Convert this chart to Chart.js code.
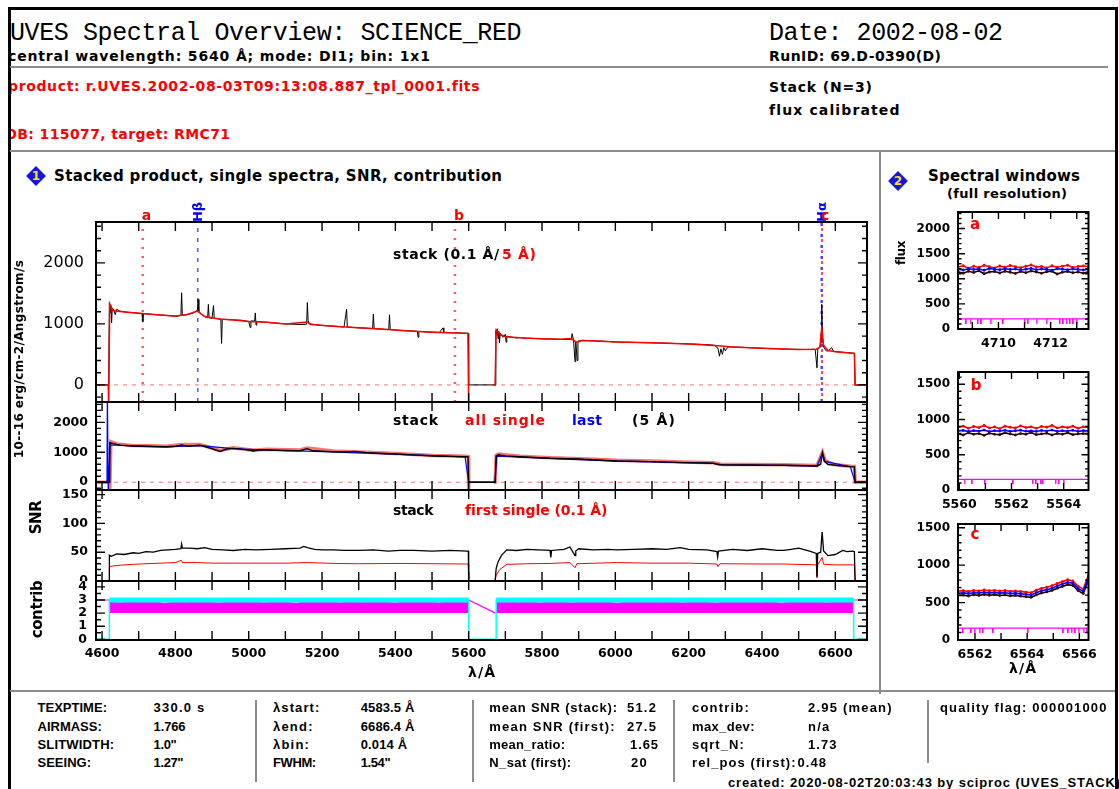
<!DOCTYPE html>
<html>
<head>
<meta charset="utf-8">
<title>UVES Spectral Overview: SCIENCE_RED</title>
<script src="https://cdn.jsdelivr.net/npm/chart.js@4.4.1/dist/chart.umd.min.js"></script>
<style>
  html, body { margin: 0; padding: 0; background: #fff; }
  #page { position: relative; width: 1119px; height: 789px; overflow: hidden; background: #fff; }
  #page canvas { position: absolute; }
  .t { position: absolute; white-space: pre; line-height: 1; font-family: "DejaVu Sans", sans-serif; font-weight: bold; color: #000; }
  .rule { position: absolute; background: #8c8c8c; }
  #headClip { position: absolute; left: 11px; top: 10px; width: 740px; height: 140px; overflow: hidden; }
</style>
</head>
<body>
<div id="page"><div id="headClip"></div></div>
<script>
const LAMBDA_START = 4583.5;
const LAMBDA_END = 6686.4;

// Stacked product, 0.1 A bins (black, panel 1)
const stackWave = [
  4583.5, 4618, 4620, 4622, 4624, 4626, 4628, 4632, 4636, 4640,
  4648, 4660, 4672, 4685, 4700, 4709, 4711, 4713, 4730, 4750,
  4770, 4790, 4805, 4815, 4817, 4819, 4830, 4845, 4855, 4860,
  4862, 4864, 4870, 4880, 4888, 4890, 4892, 4900, 4904, 4906,
  4915, 4924, 4926, 4928, 4945, 4960, 4980, 5000, 5004, 5006,
  5016, 5018, 5020, 5022, 5040, 5060, 5080, 5100, 5120, 5140,
  5158, 5160, 5162, 5165, 5180, 5200, 5220, 5240, 5260, 5267,
  5269, 5280, 5300, 5320, 5338, 5340, 5342, 5360, 5382, 5384,
  5386, 5400, 5420, 5440, 5460, 5462, 5464, 5480, 5500, 5520,
  5530, 5532, 5550, 5570, 5590, 5599, 5600, 5672, 5674, 5676,
  5678, 5680, 5682, 5684, 5686, 5690, 5694, 5700, 5702, 5704,
  5710, 5720, 5730, 5740, 5760, 5780, 5800, 5820, 5840, 5860,
  5880, 5882, 5886, 5890, 5892, 5896, 5898, 5910, 5930, 5950,
  5980, 6000, 6030, 6060, 6100, 6140, 6180, 6220, 6250, 6270,
  6280, 6284, 6288, 6292, 6296, 6300, 6306, 6312, 6330, 6360,
  6400, 6440, 6480, 6520, 6545, 6550, 6552, 6558, 6561, 6563,
  6565, 6568, 6575, 6580, 6590, 6595, 6620, 6640, 6652, 6654,
  6686.4
];
const stackFlux = [
  0, 0, 1350, 1180, 1300, 1020, 1260, 1230, 1150, 1240,
  1210, 1200, 1190, 1185, 1175, 1170, 1030, 1170, 1160, 1150,
  1140, 1130, 1125, 1140, 1510, 1140, 1150, 1170, 1200, 1230,
  1400, 1210, 1160, 1120, 1100, 1320, 1100, 1090, 1300, 1090,
  1085, 1080, 680, 1075, 1070, 1065, 1060, 1040, 940, 1050,
  1045, 1180, 980, 1040, 1030, 1020, 1010, 1000, 995, 990,
  995, 1350, 1060, 1000, 990, 975, 965, 960, 950, 1240,
  950, 945, 935, 930, 920, 1160, 920, 915, 905, 1150,
  905, 900, 890, 885, 880, 780, 878, 870, 865, 860,
  935, 858, 855, 852, 848, 845, 0, 0, 890, 820,
  920, 760, 880, 690, 850, 800, 780, 830, 700, 800,
  790, 780, 770, 775, 765, 760, 755, 752, 750, 745,
  745, 840, 735, 380, 720, 400, 720, 730, 725, 720,
  712, 705, 700, 695, 690, 684, 676, 668, 660, 650,
  600, 470, 590, 500, 610, 560, 615, 625, 620, 612,
  600, 592, 584, 580, 585, 280, 585, 615, 700, 1320,
  760, 620, 560, 555, 610, 550, 535, 525, 518, 0,
  0
];

// Stacked product smoothed to 5 A (red, panel 1)
const smoothWave = [
  4583.5, 4617, 4618, 4621, 4630, 4660, 4700, 4750, 4800, 4830,
  4860, 4880, 4920, 4960, 5000, 5050, 5100, 5160, 5170, 5250,
  5300, 5350, 5400, 5450, 5500, 5550, 5598, 5600, 5601, 5668,
  5672, 5675, 5685, 5700, 5750, 5800, 5850, 5880, 5893, 5910,
  5950, 6000, 6100, 6200, 6280, 6320, 6400, 6500, 6548, 6558,
  6563, 6568, 6580, 6600, 6640, 6652, 6654, 6686.4
];
const smoothFlux = [
  0, 0, -400, 1330, 1220, 1195, 1175, 1150, 1130, 1150,
  1210, 1120, 1080, 1065, 1040, 1025, 1000, 1030, 990, 955,
  935, 920, 900, 880, 865, 855, 845, -400, null, 0,
  0, 900, 830, 790, 770, 757, 748, 760, 700, 728,
  720, 705, 690, 672, 640, 622, 600, 580, 585, 620,
  950, 650, 565, 545, 522, 515, 0, 0
];

// Spectral windows and lines marked on the flux panel
const markerWave = [4710.95, 4861.3, 5562.45, 6562.8, 6563.85];
const markerName = ['a', 'Hβ', 'b', 'Hα', 'c'];

// Panel 2: stack, all single, last (5 A)
const p2Wave = [
  4583.5, 4619, 4621, 4631, 4650, 4685, 4730, 4776, 4800, 4817,
  4835, 4867, 4890, 4922, 4940, 4958, 4990, 5013, 5030, 5049,
  5100, 5140, 5159, 5175, 5200, 5231, 5270, 5290, 5322, 5370,
  5413, 5460, 5504, 5550, 5590, 5598, 5600, 5672, 5675, 5681,
  5700, 5740, 5780, 5822, 5870, 5900, 5913, 5950, 6004, 6050,
  6095, 6140, 6186, 6230, 6268, 6280, 6300, 6368, 6420, 6459,
  6500, 6550, 6560, 6565, 6570, 6580, 6595, 6620, 6641, 6652,
  6654, 6686.4
];
const p2Stack = [
  0, 0, 1320, 1290, 1240, 1210, 1195, 1187, 1200, 1243,
  1200, 1235, 1160, 1030, 1110, 1130, 1090, 1045, 1080, 1077,
  1060, 1053, 1120, 1050, 1035, 1020, 1010, 1030, 987, 960,
  933, 905, 877, 865, 853, 850, 0, 0, 880, 915,
  880, 850, 825, 800, 785, 780, 765, 740, 710, 700,
  687, 670, 655, 645, 633, 590, 578, 577, 572, 567,
  558, 543, 600, 985, 700, 590, 577, 540, 520, 515,
  0, 0
];
const p2SingleWave = [
  4583.5, 4620, 4621, 4624, 4640, 4680, 4730, 4776, 4817, 4867,
  4922, 4958, 5013, 5049, 5140, 5159, 5231, 5322, 5413, 5504,
  5590, 5599, 5600, 5601, 5668, 5672, 5675, 5681, 5740, 5822,
  5913, 6004, 6095, 6186, 6268, 6290, 6368, 6459, 6550, 6565,
  6572, 6595, 6641, 6652, 6654, 6686.4
];
const p2Single = [
  0, 0, -300, 1360, 1280, 1230, 1215, 1205, 1260, 1260,
  1060, 1150, 1070, 1100, 1075, 1140, 1040, 1005, 950, 895,
  870, 860, -300, null, 0, 0, 900, 940, 870, 820,
  785, 730, 705, 672, 650, 595, 592, 582, 560, 1000,
  720, 592, 535, 530, 0, 0
];
const p2LastWave = [
  4583.5, 4613.5, 4614.5, 4617, 4622, 4650, 4776, 4867, 4958, 5049,
  5231, 5413, 5590, 5600, 5672, 5676, 5822, 6004, 6186, 6268,
  6290, 6459, 6550, 6565, 6572, 6641, 6654, 6686.4
];
const p2Last = [
  0, 0, 3000, -300, 1250, 1230, 1180, 1225, 1120, 1070,
  1015, 930, 850, 0, 0, 870, 795, 705, 652, 630,
  580, 565, 540, 980, 695, 518, 0, 0
];

// Panel 3: SNR of stack (black) and first single (red)
const snrWave = [
  4583.5, 4619, 4620, 4625, 4640, 4660, 4685, 4700, 4720, 4740,
  4760, 4780, 4800, 4815, 4817, 4819, 4840, 4860, 4880, 4900,
  4930, 4958, 4990, 5020, 5060, 5100, 5140, 5150, 5160, 5180,
  5200, 5231, 5260, 5300, 5340, 5380, 5413, 5450, 5500, 5550,
  5595, 5599, 5600, 5672, 5675, 5680, 5690, 5704, 5730, 5760,
  5790, 5822, 5824, 5826, 5860, 5876, 5890, 5892, 5900, 5940,
  5980, 6004, 6050, 6100, 6140, 6177, 6200, 6250, 6277, 6279,
  6281, 6320, 6360, 6400, 6440, 6459, 6480, 6500, 6530, 6548,
  6550, 6552, 6560, 6564, 6568, 6580, 6600, 6620, 6632, 6648,
  6652, 6654, 6686.4
];
const snrStack = [
  0, 0, 45, 43, 47, 46, 49, 48, 51, 50,
  53, 54, 55, 56, 64, 57, 57, 56, 58, 55,
  54, 53, 55, 54, 55, 56, 57, 60, 58, 55,
  54, 54, 53, 53, 54, 52, 53, 53, 52, 53,
  52, 52, 0, 0, 22, 33, 45, 54, 53, 55,
  54, 53, 41, 53, 55, 59, 44, 52, 56, 54,
  55, 54, 55, 56, 55, 58, 55, 54, 51, 42,
  52, 55, 53, 56, 53, 53, 55, 57, 52, 48,
  8, 48, 50, 85, 52, 44, 46, 53, 51, 52,
  51, 0, 0
];
const snrFirstWave = [
  4583.5, 4619, 4620, 4640, 4685, 4720, 4760, 4800, 4817, 4819,
  4860, 4900, 4958, 5000, 5060, 5100, 5160, 5231, 5300, 5413,
  5500, 5595, 5599, 5600, 5672, 5675, 5685, 5704, 5760, 5822,
  5876, 5890, 5895, 6004, 6100, 6200, 6277, 6280, 6285, 6400,
  6459, 6548, 6550, 6552, 6564, 6568, 6600, 6648, 6652, 6654,
  6686.4
];
const snrFirst = [
  0, 0, 25, 27, 29, 30, 31, 32, 36, 32,
  32, 31, 31, 31, 31, 31, 32, 30.5, 30, 30.5,
  30, 29.5, 29.5, 0, 0, 10, 20, 29, 30, 30.5,
  32, 23, 30, 32, 31, 31, 29.5, 25, 30, 29.5,
  29.5, 28, 6, 28, 41, 29, 28, 28, 28, 0,
  0
];

// Panel 4: contributing spectra (cyan) and relative position (magenta)
const contribWave = [4583.5, 4620, 4620, 5600, 5600, 5675, 5675, 6650, 6650, 6686.4];
const contribVal = [0, 0, 3, 3, 0, 0, 3, 3, 0, 0];
const contribTopWave = [4620, 5600, 5640, 5675, 6650];
const contribTop = [3, 3, null, 3, 3];
const relWave = [
  4620, 4650, 4680, 4710, 4740, 4770, 4800, 4830, 4860, 4890,
  4920, 4950, 4980, 5010, 5040, 5070, 5100, 5130, 5160, 5190,
  5220, 5250, 5280, 5310, 5340, 5370, 5400, 5430, 5460, 5490,
  5520, 5550, 5580, 5600, 5640,
  5675, 5705, 5735, 5765, 5795, 5825, 5855, 5885, 5915, 5945,
  5975, 6005, 6035, 6065, 6095, 6125, 6155, 6185, 6215, 6245,
  6275, 6305, 6335, 6365, 6395, 6425, 6455, 6485, 6515, 6545,
  6575, 6605, 6635, 6650
];
const relVal = [
  2.82, 2.78, 2.86, 2.80, 2.84, 2.75, 2.83, 2.79, 2.85, 2.81,
  2.77, 2.84, 2.80, 2.86, 2.78, 2.83, 2.81, 2.76, 2.85, 2.80,
  2.82, 2.78, 2.84, 2.79, 2.83, 2.81, 2.77, 2.85, 2.80, 2.82,
  2.78, 2.84, 2.81, 2.80, null,
  2.80, 2.84, 2.79, 2.83, 2.77, 2.85, 2.81, 2.78, 2.84, 2.80,
  2.82, 2.76, 2.83, 2.80, 2.85, 2.79, 2.82, 2.78, 2.84, 2.81,
  2.77, 2.83, 2.80, 2.85, 2.79, 2.82, 2.76, 2.84, 2.80, 2.83,
  2.78, 2.82, 2.80, 2.81
];
const relEdgeWave = [4583.5, 4619.5, 4625, 5600, 5673, 5680, 6650, 6686.4];
const relEdge = [3, 3, null, 3, 2, null, 3, 3];

// Spectral windows at full resolution
const winAWave = [
  4708.45, 4708.65, 4708.85, 4709.05, 4709.25, 4709.45, 4709.65, 4709.85, 4710.05, 4710.25,
  4710.45, 4710.65, 4710.85, 4711.05, 4711.25, 4711.45, 4711.65, 4711.85, 4712.05, 4712.25,
  4712.45, 4712.65, 4712.85, 4713.05, 4713.25, 4713.45
];
const winARed = [1235, 1260, 1210, 1250, 1225, 1270, 1240, 1215, 1255, 1230, 1265, 1240, 1220, 1250, 1275, 1235, 1245, 1215, 1260, 1230, 1250, 1270, 1225, 1245, 1255, 1240];
const winABlue = [1190, 1175, 1200, 1185, 1195, 1170, 1205, 1190, 1180, 1200, 1185, 1195, 1175, 1190, 1205, 1180, 1195, 1185, 1170, 1200, 1190, 1180, 1195, 1185, 1175, 1190];
const winABlack = [1140, 1110, 1150, 1125, 1160, 1100, 1135, 1145, 1115, 1150, 1130, 1105, 1145, 1120, 1155, 1135, 1110, 1140, 1150, 1095, 1130, 1145, 1120, 1135, 1110, 1140];
const winAFlag = [4708.77, 4708.93, 4709.22, 4709.35, 4709.7, 4710.18, 4711.01, 4711.14, 4711.46, 4711.85, 4712.36, 4712.49, 4712.62, 4712.75, 4712.87, 4713.0];

const winBWave = [
  5559.95, 5560.15, 5560.35, 5560.55, 5560.75, 5560.95, 5561.15, 5561.35, 5561.55, 5561.75,
  5561.95, 5562.15, 5562.35, 5562.55, 5562.75, 5562.95, 5563.15, 5563.35, 5563.55, 5563.75,
  5563.95, 5564.15, 5564.35, 5564.55, 5564.75, 5564.95
];
const winBRed = [890, 905, 875, 900, 885, 915, 880, 895, 870, 905, 890, 880, 910, 885, 895, 875, 900, 890, 915, 880, 895, 885, 905, 875, 895, 890];
const winBBlue = [838, 845, 830, 842, 835, 850, 828, 840, 836, 846, 832, 840, 848, 834, 838, 830, 844, 836, 850, 832, 840, 836, 846, 830, 842, 838];
const winBBlack = [795, 780, 810, 790, 800, 775, 805, 790, 785, 810, 795, 780, 800, 790, 815, 785, 795, 805, 780, 800, 790, 810, 785, 795, 800, 790];
const winBFlag = [5560.2, 5560.5, 5561.0, 5562.07, 5562.82, 5562.95, 5563.14, 5563.2, 5563.7, 5563.82, 5564.0];

const winCWave = [
  6561.35, 6561.55, 6561.75, 6561.95, 6562.15, 6562.35, 6562.55, 6562.75, 6562.95, 6563.15,
  6563.35, 6563.55, 6563.75, 6563.95, 6564.15, 6564.35, 6564.55, 6564.75, 6564.95, 6565.15,
  6565.35, 6565.55, 6565.75, 6565.95, 6566.15, 6566.35
];
const winCRed = [655, 660, 648, 662, 655, 668, 658, 664, 655, 662, 650, 655, 648, 640, 632, 665, 690, 705, 725, 755, 780, 805, 790, 720, 680, 870];
const winCBlue = [625, 630, 620, 632, 628, 636, 630, 634, 626, 632, 622, 626, 618, 610, 602, 632, 658, 672, 692, 722, 748, 770, 760, 690, 650, 835];
const winCBlack = [595, 600, 588, 604, 596, 608, 598, 606, 594, 602, 590, 596, 586, 578, 570, 602, 628, 642, 662, 690, 716, 740, 728, 660, 620, 800];
const winCFlag = [6561.54, 6561.86, 6561.99, 6562.18, 6562.31, 6562.7, 6564.04, 6565.39, 6565.58, 6565.71, 6565.84, 6565.97, 6566.16, 6566.28];
const winFlagLevel = [200, 150, 160];

// Tick labels
const waveTicks = [4600, 4800, 5000, 5200, 5400, 5600, 5800, 6000, 6200, 6400, 6600];
const fluxTicks = [0, 1000, 2000];
const snrTicks = [0, 50, 100, 150];
const contribTicks = [0, 1, 2, 3, 4];
const winFluxTicks = [[0, 500, 1000, 1500, 2000], [0, 500, 1000, 1500], [0, 500, 1000, 1500]];
const winWaveTicks = [[4710, 4712], [5560, 5562, 5564], [6562, 6564, 6566]];

// ---------- Helpers ----------
const RED = '#ff0000', BLUE = '#0000ff', MAGENTA = '#ff00ff', CYAN = '#00ffff';
const page = document.getElementById('page');
const headClip = document.getElementById('headClip');
Chart.defaults.font.family = '"DejaVu Sans", sans-serif';
Chart.defaults.color = '#000';

function makeCanvas(left, top, w, h) {
    const c = document.createElement('canvas');
    c.width = w; c.height = h;
    c.style.left = left + 'px'; c.style.top = top + 'px';
    c.style.width = w + 'px'; c.style.height = h + 'px';
    page.appendChild(c);
    return c;
}

function line(xs, ys, color, width, extra) {
    return Object.assign({
        data: xs.map((x, i) => ({ x: x, y: ys[i] })),
        borderColor: color, backgroundColor: color, borderWidth: width,
        pointRadius: 0, fill: false, tension: 0
    }, extra || {});
}

function yAxis(range, values, width, font, pad) {
    return {
        type: 'linear', min: range[0], max: range[1],
        grid: { display: false, drawTicks: false }, border: { display: false },
        ticks: { font: font, color: '#000', padding: pad, autoSkip: false, callback: v => String(v) },
        afterBuildTicks: s => { s.ticks = values.map(v => ({ value: v })); },
        afterFit: s => { s.width = width; s.paddingTop = 0; s.paddingBottom = 0; }
    };
}

function xAxis(range, values, height, font, pad) {
    return {
        type: 'linear', min: range[0], max: range[1], display: !!values,
        grid: { display: false, drawTicks: false }, border: { display: false },
        ticks: { font: font, color: '#000', padding: pad, autoSkip: false, maxRotation: 0, callback: v => String(v) },
        afterBuildTicks: s => { if (values) s.ticks = values.map(v => ({ value: v })); },
        afterFit: s => { s.height = height; s.paddingLeft = 0; s.paddingRight = 0; }
    };
}

function chartOptions(x, y, pad, frame) {
    return {
        responsive: false, animation: false, devicePixelRatio: 1, events: [],
        layout: { autoPadding: false, padding: pad },
        plugins: { legend: { display: false }, tooltip: { enabled: false }, frameTicks: frame },
        scales: { x: x, y: y }
    };
}

// PGPLOT style box: frame plus inward ticks on all four sides
const frameTicks = {
    id: 'frameTicks',
    afterDatasetsDraw(chart, args, o) {
        const { ctx, chartArea: a } = chart;
        const xs = chart.scales.x, ys = chart.scales.y;
        const each = (scale, step, fn) => {
            if (!step) return;
            for (let i = Math.ceil(scale.min / step - 1e-9); i * step <= scale.max + 1e-9; i++) fn(scale.getPixelForValue(i * step));
        };
        const xTick = len => px => { ctx.moveTo(px, a.top); ctx.lineTo(px, a.top + len); ctx.moveTo(px, a.bottom); ctx.lineTo(px, a.bottom - len); };
        const yTick = len => py => { ctx.moveTo(a.left, py); ctx.lineTo(a.left + len, py); ctx.moveTo(a.right, py); ctx.lineTo(a.right - len, py); };
        ctx.save();
        ctx.strokeStyle = '#000';
        ctx.lineWidth = 1.4;
        ctx.beginPath();
        each(xs, o.xMajor, xTick(o.majorLen));
        each(xs, o.xMinor, xTick(o.minorLen));
        each(ys, o.yMajor, yTick(o.majorLen));
        each(ys, o.yMinor, yTick(o.minorLen));
        ctx.stroke();
        ctx.lineWidth = 2;
        ctx.strokeRect(a.left, a.top, a.right - a.left, a.bottom - a.top);
        ctx.restore();
    }
};
Chart.register(frameTicks);

// Labels over the marker lines of the flux panel
const markerColor = [RED, BLUE, RED, BLUE, RED];
const markerLabels = {
    id: 'markerLabels',
    afterDraw(chart) {
        const { ctx, chartArea: a } = chart;
        markerWave.forEach((w, i) => {
            const px = chart.scales.x.getPixelForValue(w);
            ctx.save();
            ctx.fillStyle = markerColor[i];
            ctx.textBaseline = 'middle';
            if (markerName[i].length > 1) {
                ctx.font = 'bold 13px "DejaVu Sans"';
                ctx.textAlign = 'center';
                ctx.translate(px + 1, a.top - 10);
                ctx.rotate(-Math.PI / 2);
                ctx.fillText(markerName[i], 0, 0);
            } else {
                ctx.font = 'bold 14px "DejaVu Sans"';
                ctx.textAlign = 'left';
                ctx.fillText(markerName[i], px - 1, a.top - 6);
            }
            ctx.restore();
        });
    }
};

function addText(str, x, y, w, o) {
    o = o || {};
    const size = o.size || 12.5;
    const el = document.createElement('span');
    el.className = 't';
    el.textContent = str;
    el.style.fontSize = size + 'px';
    if (o.weight) el.style.fontWeight = o.weight;
    if (o.color) el.style.color = o.color;
    if (o.family) el.style.fontFamily = o.family;
    (o.clip ? headClip : page).appendChild(el);
    if (w) {
        const natural = el.getBoundingClientRect().width;
        const spacing = Math.min(Math.max((w - natural) / Math.max(str.length - 1, 1), -0.4), 1.2);
        el.style.letterSpacing = spacing + 'px';
    }
    const r = el.getBoundingClientRect();
    let left = (o.center || o.rotate) ? x - r.width / 2 : x;
    let top = y - r.height / 2;
    if (o.clip) { left -= 11; top -= 10; }
    el.style.left = left + 'px';
    el.style.top = top + 'px';
    if (o.rotate) el.style.transform = 'rotate(-90deg)';
}

function rule(x, y, w, h, color) {
    const d = document.createElement('div');
    d.className = 'rule';
    d.style.left = x + 'px'; d.style.top = y + 'px';
    d.style.width = w + 'px'; d.style.height = h + 'px';
    if (color) d.style.background = color;
    page.appendChild(d);
}

function diamond(cx, cy, label) {
    const d = document.createElement('div');
    d.style.cssText = 'position:absolute;left:' + (cx - 7) + 'px;top:' + (cy - 7) + 'px;width:14px;height:14px;background:#1414e6;transform:rotate(45deg);';
    page.appendChild(d);
    addText(label, cx, cy, 0, { size: 12, color: '#ffe600', center: true });
}

// ---------- Page frame ----------
rule(8, 7, 3, 782, '#000');
rule(8, 7, 1110, 3, '#000');
rule(1115, 7, 3, 782, '#000');
rule(10, 66, 1098, 2);
rule(10, 150, 1105, 2);
rule(879, 151, 2, 543);
rule(10, 690, 1105, 2);
rule(255, 700, 2, 82);
rule(472, 700, 2, 82);
rule(673, 700, 2, 82);
rule(927, 700, 2, 63);

// ---------- Header ----------
const MONO = '"Liberation Mono", monospace';
addText('UVES Spectral Overview: SCIENCE_RED', 10, 33, 511, { size: 25, weight: 'normal', family: MONO, clip: true });
addText('central wavelength: 5640 Å; mode: DI1; bin: 1x1', 8, 56, 422, { size: 14, clip: true });
addText('product: r.UVES.2002-08-03T09:13:08.887_tpl_0001.fits', 8, 86, 471, { size: 14, color: RED, clip: true });
addText('OB: 115077, target: RMC71', 5, 134, 225, { size: 14, color: RED, clip: true });
addText('Date: 2002-08-02', 769, 33, 232, { size: 25, weight: 'normal', family: MONO });
addText('RunID: 69.D-0390(D)', 769, 56, 172, { size: 14 });
addText('Stack (N=3)', 769, 87, 103, { size: 14 });
addText('flux calibrated', 769, 110, 130, { size: 14 });

diamond(36, 176, '1');
addText('Stacked product, single spectra, SNR, contribution', 54, 176, 448, { size: 15 });
diamond(898, 181, '2');
addText('Spectral windows', 928, 176, 152, { size: 15 });
addText('(full resolution)', 947, 193, 120, { size: 13 });

// ---------- Left block: stacked product, singles, SNR, contribution ----------
const X_RANGE = [LAMBDA_START, LAMBDA_END];
const fluxRange = [-280, 2670];
const p2Range = [-260, 2680];
const snrRange = [0, 158];
const contribRange = [-0.05, 4.45];
const bold = size => ({ family: '"DejaVu Sans"', size: size, weight: 'bold' });
const pad = top => ({ left: 0, right: 13, top: top, bottom: 0 });

new Chart(makeCanvas(0, 195, 880, 207), {
    type: 'line',
    data: { datasets: [
        line(smoothWave, smoothFlux, RED, 1.5),
        line(stackWave, stackFlux, '#000', 1),
        line([markerWave[0], markerWave[0]], fluxRange, '#ff5a5a', 2.5, { borderDash: [2, 7] }),
        line([markerWave[1], markerWave[1]], fluxRange, BLUE, 1, { borderDash: [4, 6] }),
        line([markerWave[2], markerWave[2]], fluxRange, '#ff5a5a', 2.5, { borderDash: [2, 7] }),
        line([markerWave[3], markerWave[3]], fluxRange, '#5a3cff', 2.5, { borderDash: [3, 8] }),
        line([markerWave[4], markerWave[4]], fluxRange, '#ff3c78', 2, { borderDash: [3, 8], borderDashOffset: 5 }),
        line(X_RANGE, [0, 0], '#ff7070', 1, { borderDash: [4, 5] })
    ] },
    options: chartOptions(xAxis(X_RANGE, null, 0), yAxis(fluxRange, fluxTicks, 96, { family: '"DejaVu Sans"', size: 16 }, 12),
        pad(27), { xMajor: 100, yMajor: 1000, yMinor: 200, majorLen: 9, minorLen: 5 }),
    plugins: [markerLabels]
});

new Chart(makeCanvas(0, 392, 880, 98), {
    type: 'line',
    data: { datasets: [
        line(p2Wave, p2Stack, '#000', 1.4),
        line(p2LastWave, p2Last, BLUE, 1.2),
        line(p2SingleWave, p2Single, 'rgba(255,0,0,0.55)', 3.5),
        line(X_RANGE, [0, 0], '#ff7070', 1, { borderDash: [4, 5] })
    ] },
    options: chartOptions(xAxis(X_RANGE, null, 0), yAxis(p2Range, fluxTicks, 96, bold(12.5), 8),
        pad(10), { xMajor: 100, yMajor: 1000, yMinor: 200, majorLen: 9, minorLen: 5 })
});

new Chart(makeCanvas(0, 480, 880, 101), {
    type: 'line',
    data: { datasets: [
        line(snrWave, snrStack, '#000', 1.3),
        line(snrFirstWave, snrFirst, RED, 1)
    ] },
    options: chartOptions(xAxis(X_RANGE, null, 0), yAxis(snrRange, snrTicks, 96, bold(12.5), 8),
        pad(10), { xMajor: 100, yMajor: 50, yMinor: 10, majorLen: 9, minorLen: 5 })
});

new Chart(makeCanvas(0, 571, 880, 119), {
    type: 'line',
    data: { datasets: [
        line(contribTopWave, contribTop, CYAN, 5),
        line(contribWave, contribVal, CYAN, 1.5),
        line(relEdgeWave, relEdge, MAGENTA, 1.2),
        line(relWave, relVal, MAGENTA, 1, { fill: { value: 2 }, backgroundColor: MAGENTA })
    ] },
    options: chartOptions(xAxis(X_RANGE, waveTicks, 50, bold(12.5), 6), yAxis(contribRange, contribTicks, 96, bold(12.5), 9),
        pad(10), { xMajor: 100, yMajor: 1, yMinor: 0.5, majorLen: 9, minorLen: 5 })
});

addText('stack (0.1 Å/', 393, 254, 106, { size: 14 });
addText('5 Å)', 502, 254, 34, { size: 14, color: RED });
addText('stack', 393, 420, 45, { size: 14 });
addText('all single', 465, 420, 80, { size: 14, color: RED });
addText('last', 572, 420, 30, { size: 14, color: BLUE });
addText('(5 Å)', 632, 420, 43, { size: 14 });
addText('stack', 393, 510, 39, { size: 14 });
addText('first single (0.1 Å)', 465, 510, 142, { size: 14, color: RED });
addText('λ/Å', 468, 672, 29, { size: 14 });
addText('10--16 erg/cm-2/Angstrom/s', 19, 359, 198, { size: 12, rotate: true });
addText('SNR', 37, 517, 30, { size: 15, rotate: true });
addText('contrib', 38, 609, 58, { size: 15, rotate: true });

// ---------- Right block: spectral windows ----------
const flagMark = document.createElement('canvas');
flagMark.width = 2; flagMark.height = 10;
flagMark.getContext('2d').fillStyle = MAGENTA;
flagMark.getContext('2d').fillRect(0, 5, 1.5, 5);

const windows = [
    { top: 196, h: 158, range: [4708.45, 4713.45], yRange: [0, 2330], wave: winAWave, red: winARed, blue: winABlue, black: winABlack, flag: winAFlag },
    { top: 356, h: 159, range: [5559.95, 5564.95], yRange: [0, 1673], wave: winBWave, red: winBRed, blue: winBBlue, black: winBBlack, flag: winBFlag },
    { top: 508, h: 157, range: [6561.35, 6566.35], yRange: [0, 1550], wave: winCWave, red: winCRed, blue: winCBlue, black: winCBlack, flag: winCFlag }
];

windows.forEach((w, i) => {
    const dots = c => ({ pointRadius: 1.4, pointBorderWidth: 0, pointBackgroundColor: c });
    new Chart(makeCanvas(880, w.top, 230, w.h), {
        type: 'line',
        data: { datasets: [
            line(w.wave, w.blue, BLUE, 1.6, dots(BLUE)),
            line(w.wave, w.red, RED, 1.6, dots(RED)),
            line(w.wave, w.black, '#000', 1.6, dots('#4a0000')),
            line(w.flag, w.flag.map(() => winFlagLevel[i]), MAGENTA, 0, { showLine: false, pointStyle: flagMark, pointRadius: 5 }),
            line(w.range, [winFlagLevel[i], winFlagLevel[i]], MAGENTA, 1.2)
        ] },
        options: chartOptions(xAxis(w.range, winWaveTicks[i], 25, bold(12.5), 7), yAxis(w.yRange, winFluxTicks[i], 78, bold(12), 8),
            { left: 0, right: 21.5, top: 16, bottom: 0 }, { xMajor: 1, yMajor: 500, yMinor: 100, majorLen: 7, minorLen: 3.5 })
    });
});

addText('flux', 901, 253, 21, { size: 12, rotate: true });
addText('a', 975, 224, 0, { size: 15, color: RED, center: true });
addText('b', 976, 385, 0, { size: 15, color: RED, center: true });
addText('c', 975, 534, 0, { size: 15, color: RED, center: true });
addText('λ/Å', 1009, 668, 30, { size: 14 });

// ---------- Bottom table ----------
const SANS = '"Liberation Sans", Arial, sans-serif';
const cell = (str, x, y, w) => addText(str, x, y, w, { size: 13, family: SANS });
const rowY = [707, 726, 744, 762];
cell('TEXPTIME:', 37.5, rowY[0], 69.5);
cell('AIRMASS:', 37.5, rowY[1], 64.3);
cell('SLITWIDTH:', 37.5, rowY[2], 76.5);
cell('SEEING:', 37.5, rowY[3], 53.5);
cell('330.0 s', 153.6, rowY[0], 53.4);
cell('1.766', 153.6, rowY[1], 32);
cell('1.0"', 153.6, rowY[2], 21.4);
cell('1.27"', 153.6, rowY[3], 25);

cell('λstart:', 273, rowY[0], 46.4);
cell('λend:', 273, rowY[1], 41);
cell('λbin:', 273, rowY[2], 41);
cell('FWHM:', 273, rowY[3], 41);
cell('4583.5 Å', 360.7, rowY[0], 53.6);
cell('6686.4 Å', 360.7, rowY[1], 53.6);
cell('0.014 Å', 360.7, rowY[2], 46.4);
cell('1.54"', 360.7, rowY[3], 25);

cell('mean SNR (stack):', 489.3, rowY[0], 127.7);
cell('mean SNR (first):', 489.3, rowY[1], 127.7);
cell('mean_ratio:', 489.3, rowY[2], 75.7);
cell('N_sat (first):', 489.3, rowY[3], 81.7);
cell('51.2', 627, rowY[0], 33);
cell('27.5', 627, rowY[1], 33);
cell('1.65', 630, rowY[2], 28);
cell('20', 631, rowY[3], 16.5);

cell('contrib:', 692, rowY[0], 57);
cell('max_dev:', 692, rowY[1], 62.5);
cell('sqrt_N:', 692, rowY[2], 51.8);
cell('rel_pos (first):', 692, rowY[3], 103.6);
cell('2.95 (mean)', 808, rowY[0], 89.3);
cell('n/a', 808, rowY[1], 28.6);
cell('1.73', 808, rowY[2], 28.6);
cell('0.48', 797.5, rowY[3], 28.6);

cell('quality flag: 000001000', 940, rowY[0], 166.4);
cell('created: 2020-08-02T20:03:43 by sciproc (UVES_STACK)', 728, 782, 392);
</script>
</body>
</html>
